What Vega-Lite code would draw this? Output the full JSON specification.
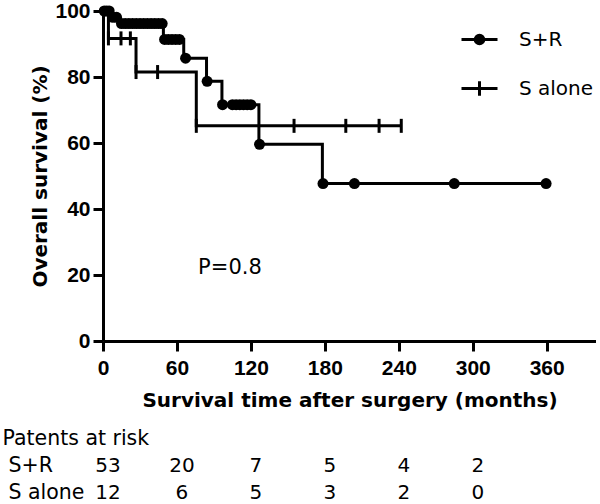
{
  "$schema": "https://vega.github.io/schema/vega-lite/v6.json",
  "background": "white",
  "padding": {"left": 2, "top": 0, "right": 0, "bottom": 0},
  "config": {
    "view": {"stroke": null},
    "font": "DejaVu Sans",
    "concat": {"spacing": 15}
  },
  "datasets": {
    "curve": [
      {"group": "S+R", "time": 0, "surv": 100},
      {"group": "S+R", "time": 6.5, "surv": 98.1},
      {"group": "S+R", "time": 13, "surv": 96.2},
      {"group": "S+R", "time": 49, "surv": 91.4},
      {"group": "S+R", "time": 65.5, "surv": 85.7},
      {"group": "S+R", "time": 84, "surv": 78.7},
      {"group": "S+R", "time": 96.5, "surv": 71.6},
      {"group": "S+R", "time": 126.5, "surv": 59.6},
      {"group": "S+R", "time": 178, "surv": 47.7},
      {"group": "S+R", "time": 359.5, "surv": 47.7},
      {"group": "S alone", "time": 0, "surv": 100},
      {"group": "S alone", "time": 4.4, "surv": 91.7},
      {"group": "S alone", "time": 26.8, "surv": 81.5},
      {"group": "S alone", "time": 75.7, "surv": 65.2},
      {"group": "S alone", "time": 242, "surv": 65.2}
    ],
    "censor": [
      {"group": "S+R", "time": 1, "surv": 100},
      {"group": "S+R", "time": 3, "surv": 100},
      {"group": "S+R", "time": 5, "surv": 100},
      {"group": "S+R", "time": 8, "surv": 98.1},
      {"group": "S+R", "time": 11, "surv": 98.1},
      {"group": "S+R", "time": 15, "surv": 96.2},
      {"group": "S+R", "time": 18, "surv": 96.2},
      {"group": "S+R", "time": 21, "surv": 96.2},
      {"group": "S+R", "time": 24, "surv": 96.2},
      {"group": "S+R", "time": 27, "surv": 96.2},
      {"group": "S+R", "time": 30, "surv": 96.2},
      {"group": "S+R", "time": 33, "surv": 96.2},
      {"group": "S+R", "time": 36, "surv": 96.2},
      {"group": "S+R", "time": 39, "surv": 96.2},
      {"group": "S+R", "time": 42, "surv": 96.2},
      {"group": "S+R", "time": 45, "surv": 96.2},
      {"group": "S+R", "time": 48, "surv": 96.2},
      {"group": "S+R", "time": 50, "surv": 91.4},
      {"group": "S+R", "time": 53, "surv": 91.4},
      {"group": "S+R", "time": 56, "surv": 91.4},
      {"group": "S+R", "time": 59, "surv": 91.4},
      {"group": "S+R", "time": 62, "surv": 91.4},
      {"group": "S+R", "time": 67, "surv": 85.7},
      {"group": "S+R", "time": 84.5, "surv": 78.7},
      {"group": "S+R", "time": 97, "surv": 71.6},
      {"group": "S+R", "time": 105, "surv": 71.6},
      {"group": "S+R", "time": 108, "surv": 71.6},
      {"group": "S+R", "time": 111, "surv": 71.6},
      {"group": "S+R", "time": 114, "surv": 71.6},
      {"group": "S+R", "time": 117, "surv": 71.6},
      {"group": "S+R", "time": 120, "surv": 71.6},
      {"group": "S+R", "time": 127, "surv": 59.6},
      {"group": "S+R", "time": 178.5, "surv": 47.7},
      {"group": "S+R", "time": 204, "surv": 47.7},
      {"group": "S+R", "time": 285, "surv": 47.7},
      {"group": "S+R", "time": 359.5, "surv": 47.7},
      {"group": "S alone", "time": 4.4, "surv": 91.7},
      {"group": "S alone", "time": 14.6, "surv": 91.7},
      {"group": "S alone", "time": 22.2, "surv": 91.7},
      {"group": "S alone", "time": 26.8, "surv": 81.5},
      {"group": "S alone", "time": 44.3, "surv": 81.5},
      {"group": "S alone", "time": 75.7, "surv": 65.2},
      {"group": "S alone", "time": 155, "surv": 65.2},
      {"group": "S alone", "time": 197, "surv": 65.2},
      {"group": "S alone", "time": 224, "surv": 65.2},
      {"group": "S alone", "time": 242, "surv": 65.2}
    ],
    "risk": [
      {"row": "S+R", "time": 0, "n": 53},
      {"row": "S+R", "time": 60, "n": 20},
      {"row": "S+R", "time": 120, "n": 7},
      {"row": "S+R", "time": 180, "n": 5},
      {"row": "S+R", "time": 240, "n": 4},
      {"row": "S+R", "time": 300, "n": 2},
      {"row": "S alone", "time": 0, "n": 12},
      {"row": "S alone", "time": 60, "n": 6},
      {"row": "S alone", "time": 120, "n": 5},
      {"row": "S alone", "time": 180, "n": 3},
      {"row": "S alone", "time": 240, "n": 2},
      {"row": "S alone", "time": 300, "n": 0}
    ]
  },
  "vconcat": [
    {
      "width": 493,
      "height": 330,
      "encoding": {
        "x": {
          "field": "time",
          "type": "quantitative",
          "scale": {"domain": [0, 400], "nice": false},
          "axis": {
            "values": [0, 60, 120, 180, 240, 300, 360],
            "title": "Survival time after surgery (months)",
            "titleFont": "DejaVu Sans",
            "titleFontWeight": "bold",
            "titleFontSize": 20,
            "titleColor": "black",
            "titlePadding": 12,
            "labelFont": "Liberation Sans",
            "labelFontWeight": "bold",
            "labelFontSize": 21,
            "labelColor": "black",
            "labelPadding": 6,
            "labelFlush": false,
            "tickSize": 10,
            "tickWidth": 3,
            "tickColor": "black",
            "domainWidth": 3,
            "domainColor": "black",
            "grid": false
          }
        },
        "y": {
          "field": "surv",
          "type": "quantitative",
          "scale": {"domain": [0, 100], "nice": false},
          "axis": {
            "values": [0, 20, 40, 60, 80, 100],
            "title": "Overall survival (%)",
            "titleFont": "DejaVu Sans",
            "titleFontWeight": "bold",
            "titleFontSize": 20,
            "titleColor": "black",
            "titlePadding": 4,
            "labelFont": "Liberation Sans",
            "labelFontWeight": "bold",
            "labelFontSize": 21,
            "labelColor": "black",
            "labelPadding": 3,
            "labelFlush": false,
            "tickSize": 10,
            "tickWidth": 3,
            "tickColor": "black",
            "domainWidth": 3,
            "domainColor": "black",
            "grid": false
          }
        }
      },
      "layer": [
        {
          "data": {"name": "curve"},
          "mark": {"type": "line", "interpolate": "step-after", "color": "black", "strokeWidth": 3},
          "encoding": {"detail": {"field": "group", "type": "nominal"}}
        },
        {
          "data": {"name": "censor"},
          "transform": [{"filter": "datum.group === 'S+R'"}],
          "mark": {"type": "point", "shape": "circle", "filled": true, "color": "black", "size": 121, "opacity": 1}
        },
        {
          "data": {"name": "censor"},
          "transform": [{"filter": "datum.group === 'S alone'"}],
          "mark": {"type": "point", "shape": "M0,-1L0,1", "filled": false, "color": "black", "size": 196, "strokeWidth": 3, "opacity": 1}
        },
        {
          "data": {"values": [{"label": "P=0.8", "time": 103, "surv": 22}]},
          "mark": {"type": "text", "font": "DejaVu Sans", "fontSize": 21, "color": "black", "align": "center", "baseline": "middle"},
          "encoding": {"text": {"field": "label"}}
        },
        {
          "data": {"values": [{"group": "S+R", "time": 0, "surv": 0}, {"group": "S alone", "time": 0, "surv": 0}]},
          "mark": {"type": "point", "filled": false, "color": "black", "strokeWidth": 3, "opacity": 0, "size": 1296},
          "encoding": {
            "shape": {
              "field": "group",
              "type": "nominal",
              "scale": {
                "domain": ["S+R", "S alone"],
                "range": [
                  "M-1,0L1,0M-0.24,0A0.24,0.24 0 1,0 0.24,0A0.24,0.24 0 1,0 -0.24,0M-0.12,0A0.12,0.12 0 1,0 0.12,0A0.12,0.12 0 1,0 -0.12,0M-0.03,0A0.03,0.03 0 1,0 0.03,0A0.03,0.03 0 1,0 -0.03,0",
                  "M-1,0L1,0M0,-0.4L0,0.4"
                ]
              },
              "legend": {
                "orient": "none",
                "legendX": 357,
                "legendY": 9,
                "title": null,
                "padding": 0,
                "labelFont": "DejaVu Sans",
                "labelFontSize": 20,
                "labelColor": "black",
                "labelOffset": 20,
                "rowPadding": 19,
                "symbolSize": 1296,
                "symbolStrokeWidth": 3,
                "symbolStrokeColor": "black",
                "symbolFillColor": "transparent",
                "symbolOpacity": 1,
                "encode": {
                  "symbols": {
                    "update": {
                      "opacity": {"value": 1},
                      "stroke": {"value": "black"},
                      "strokeWidth": {"value": 3},
                      "size": {"value": 1296}
                    }
                  }
                }
              }
            }
          }
        }
      ]
    },
    {
      "width": 493,
      "height": 81,
      "data": {"name": "risk"},
      "mark": {"type": "text", "font": "DejaVu Sans", "fontSize": 20, "color": "black", "align": "center", "baseline": "middle", "dx": 5},
      "encoding": {
        "x": {"field": "time", "type": "quantitative", "scale": {"domain": [0, 400], "nice": false}, "axis": null},
        "y": {
          "field": "row",
          "type": "nominal",
          "scale": {"domain": ["Patents at risk", "S+R", "S alone"], "padding": 0.5},
          "axis": {
            "title": null,
            "domain": false,
            "ticks": false,
            "grid": false,
            "labelAlign": "left",
            "labelBaseline": "middle",
            "labelPadding": {"condition": {"test": "datum.value === 'Patents at risk'", "value": 101}, "value": 95},
            "labelFont": "DejaVu Sans",
            "labelFontSize": 20.5,
            "labelColor": "black"
          }
        },
        "text": {"field": "n", "type": "quantitative"}
      }
    }
  ]
}
